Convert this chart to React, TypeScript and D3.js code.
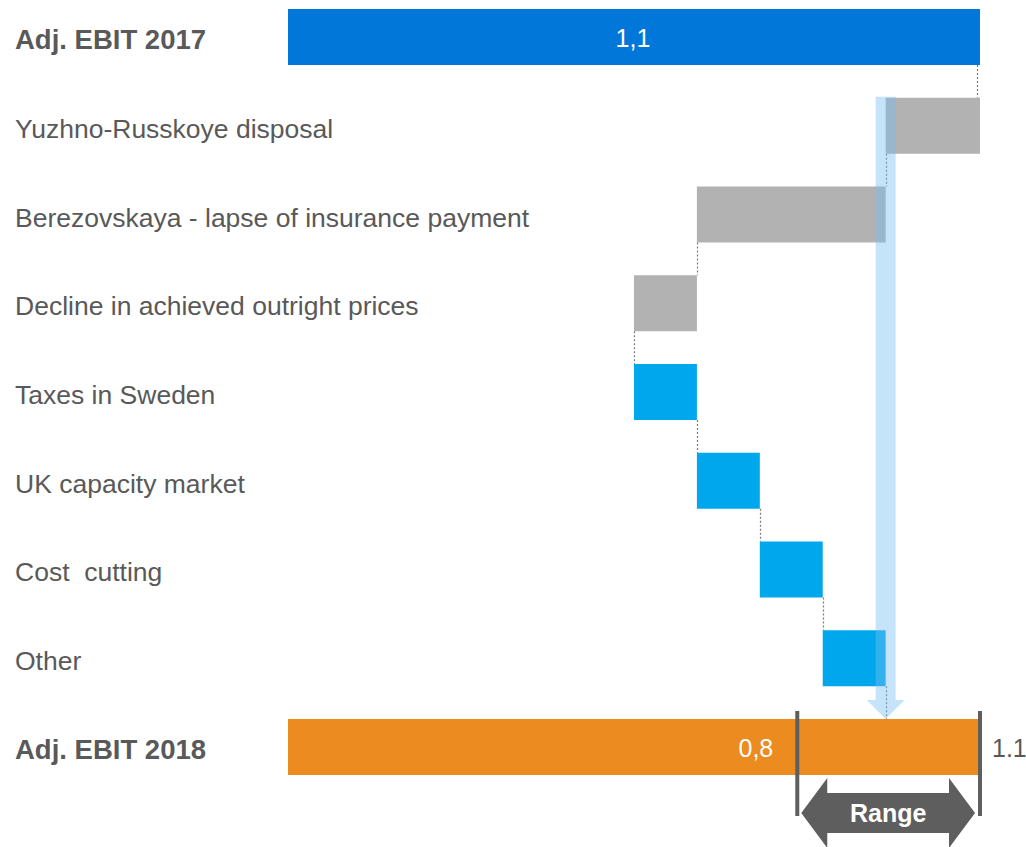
import React, { useRef, useEffect } from "react";
import * as d3 from "d3";

// Waterfall: Adj. EBIT 2017 -> 2018 bridge (SEK bn)
const categories = [
  "Adj. EBIT 2017",
  "Yuzhno-Russkoye disposal",
  "Berezovskaya - lapse of insurance payment",
  "Decline in achieved outright prices",
  "Taxes in Sweden",
  "UK capacity market",
  "Cost  cutting",
  "Other",
  "Adj. EBIT 2018",
];
const startValue = 1.1;
const deltas = [-0.15, -0.3, -0.1, 0.1, 0.1, 0.1, 0.1];
const deltaKinds = ["gray", "gray", "gray", "blue", "blue", "blue", "blue"];
const startLabel = "1,1";
const rangeLow = 0.8;
const rangeHigh = 1.1;
const rangeLowLabel = "0,8";
const rangeHighLabel = "1.1";

const COLORS = {
  start: "#0177da",
  end: "#ec8b1f",
  gray: "#b2b2b2",
  blue: "#00a7ed",
  text: "#595959",
  range: "#5e5e5e",
  band: "#78bef0",
  connector: "#7a7a7a",
};

const FONT = "'Liberation Sans', Arial, sans-serif";

export default function App() {
  const svgRef = useRef<SVGSVGElement>(null);

  useEffect(() => {
    if (!svgRef.current) return;
    document.body.style.margin = "0";

    const width = 1026;
    const height = 847;
    const svg = d3.select(svgRef.current).attr("width", width).attr("height", height);
    svg.selectAll("*").remove();

    const x = d3.scaleLinear().domain([0, 1.1]).range([288, 980]);
    const y = d3.scaleBand<string>().domain(categories).range([9, 775]).paddingInner(0.369).paddingOuter(0);
    const bw = y.bandwidth();

    // build floating bar extents
    type Bar = { cat: string; x0: number; x1: number; end: number; color: string };
    const bars: Bar[] = [];
    bars.push({ cat: categories[0], x0: 0, x1: startValue, end: startValue, color: COLORS.start });
    let running = startValue;
    deltas.forEach((d, i) => {
      const next = running + d;
      bars.push({
        cat: categories[i + 1],
        x0: Math.min(running, next),
        x1: Math.max(running, next),
        end: next,
        color: deltaKinds[i] === "gray" ? COLORS.gray : COLORS.blue,
      });
      running = next;
    });
    const midpoint = running;
    bars.push({ cat: categories[8], x0: 0, x1: rangeHigh, end: rangeHigh, color: COLORS.end });

    // connectors
    const g = svg.append("g");
    bars.slice(0, -1).forEach((b, i) => {
      const nb = bars[i + 1];
      let cx = Math.round(x(b.end)) + 0.5;
      if (i === 0) cx -= 3;
      g.append("line")
        .attr("x1", cx)
        .attr("x2", cx)
        .attr("y1", (y(b.cat) || 0) + bw)
        .attr("y2", y(nb.cat) || 0)
        .attr("stroke", COLORS.connector)
        .attr("stroke-width", 1.2)
        .attr("stroke-dasharray", "2,2");
    });

    // bars
    g.selectAll(".bar")
      .data(bars)
      .enter()
      .append("rect")
      .attr("class", "bar")
      .attr("x", (d) => x(d.x0))
      .attr("width", (d) => x(d.x1) - x(d.x0))
      .attr("y", (d) => y(d.cat) || 0)
      .attr("height", bw)
      .attr("fill", (d) => d.color);

    // category labels
    g.selectAll(".cat")
      .data(categories)
      .enter()
      .append("text")
      .attr("class", "cat")
      .attr("x", 15)
      .attr("y", (d) => (y(d) || 0) + bw / 2 + 12)
      .attr("font-family", FONT)
      .attr("font-size", (d, i) => (i === 0 || i === categories.length - 1 ? 27.5 : 26.5))
      .attr("font-weight", (d, i) => (i === 0 || i === categories.length - 1 ? "bold" : "normal"))
      .attr("fill", COLORS.text)
      .style("white-space", "pre")
      .text((d) => d);

    // value labels
    g.append("text")
      .attr("x", x(startValue / 2) - 1)
      .attr("y", (y(categories[0]) || 0) + bw / 2 + 10)
      .attr("text-anchor", "middle")
      .attr("font-family", FONT)
      .attr("font-size", 25)
      .attr("fill", "#ffffff")
      .text(startLabel);

    const yEnd = y(categories[8]) || 0;
    g.append("text")
      .attr("x", x(rangeLow) - 18)
      .attr("y", yEnd + bw / 2 + 10)
      .attr("text-anchor", "end")
      .attr("font-family", FONT)
      .attr("font-size", 25)
      .attr("fill", "#ffffff")
      .text(rangeLowLabel);

    g.append("text")
      .attr("x", x(rangeHigh) + 12)
      .attr("y", yEnd + bw / 2 + 10)
      .attr("font-family", FONT)
      .attr("font-size", 25)
      .attr("fill", COLORS.text)
      .text(rangeHighLabel);

    // light blue arrow to the midpoint
    const mx = x(midpoint);
    const top = (y(categories[1]) || 0) - 1;
    const headY = yEnd - 19;
    const arrow = d3.path();
    arrow.moveTo(mx - 10, top);
    arrow.lineTo(mx + 10, top);
    arrow.lineTo(mx + 10, headY);
    arrow.lineTo(mx + 19, headY);
    arrow.lineTo(mx, yEnd);
    arrow.lineTo(mx - 19, headY);
    arrow.lineTo(mx - 10, headY);
    arrow.closePath();
    g.append("path").attr("d", arrow.toString()).attr("fill", COLORS.band).attr("opacity", 0.42);

    // range markers
    const lx = x(rangeLow) + 6;
    const rx = x(rangeHigh);
    [lx, rx].forEach((px) => {
      g.append("line")
        .attr("x1", px)
        .attr("x2", px)
        .attr("y1", yEnd - 8)
        .attr("y2", yEnd + 97)
        .attr("stroke", COLORS.range)
        .attr("stroke-width", 4);
    });

    // double arrow "Range"
    const cy = yEnd + 94;
    const tipL = lx + 4;
    const tipR = rx - 5;
    const head = 26;
    const ra = d3.path();
    ra.moveTo(tipL, cy);
    ra.lineTo(tipL + head, cy - 35);
    ra.lineTo(tipL + head, cy - 20);
    ra.lineTo(tipR - head, cy - 20);
    ra.lineTo(tipR - head, cy - 35);
    ra.lineTo(tipR, cy);
    ra.lineTo(tipR - head, cy + 35);
    ra.lineTo(tipR - head, cy + 20);
    ra.lineTo(tipL + head, cy + 20);
    ra.lineTo(tipL + head, cy + 35);
    ra.closePath();
    g.append("path").attr("d", ra.toString()).attr("fill", COLORS.range);

    g.append("text")
      .attr("x", (tipL + tipR) / 2)
      .attr("y", cy + 9)
      .attr("text-anchor", "middle")
      .attr("font-family", FONT)
      .attr("font-size", 25)
      .attr("font-weight", "bold")
      .attr("fill", "#ffffff")
      .text("Range");
  }, []);

  return <svg ref={svgRef} style={{ display: "block" }} />;
}
